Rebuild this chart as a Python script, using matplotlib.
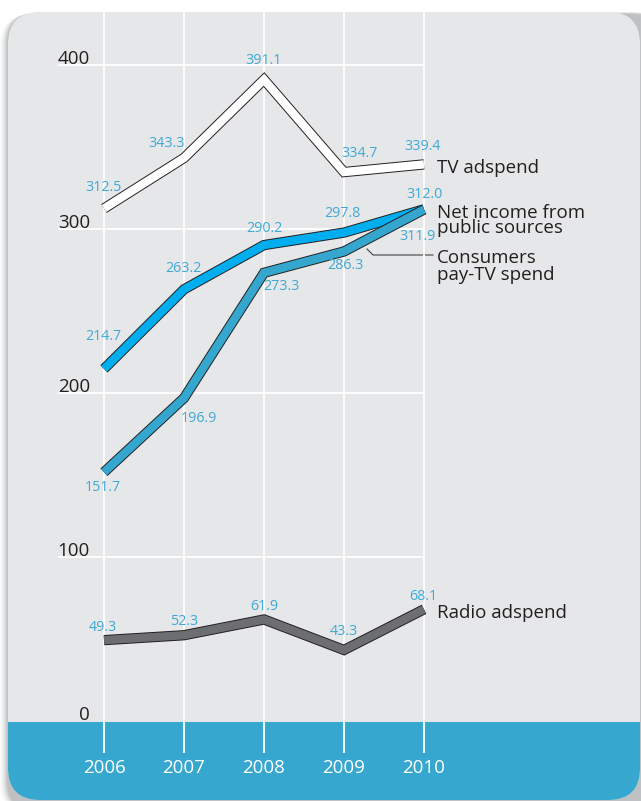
import matplotlib
matplotlib.use('Agg')
import matplotlib.pyplot as plt
import matplotlib.patheffects as pe
from matplotlib.patches import FancyBboxPatch, Rectangle

# ---------------- data ----------------
years = [2006, 2007, 2008, 2009, 2010]
tv_adspend = [312.5, 343.3, 391.1, 334.7, 339.4]
net_income = [214.7, 263.2, 290.2, 297.8, 312.0]
consumers_paytv = [151.7, 196.9, 273.3, 286.3, 311.9]
radio_adspend = [49.3, 52.3, 61.9, 43.3, 68.1]
y_ticks = [0, 100, 200, 300, 400]
series_names = [["TV adspend"],
                ["Net income from", "public sources"],
                ["Consumers", "pay-TV spend"],
                ["Radio adspend"]]

# ---------------- style ----------------
plt.rcParams['font.family'] = ['Open Sans', 'DejaVu Sans']
W, H = 641, 801
X0PX, PPY = 104, 80.0      # pixel of first year, pixels per year
Y0PX, PPU = 721, 1.64      # pixel (from top) of value 0, pixels per unit
DARK = '#231f20'
LBLUE = '#3fa9d6'
PANEL = '#e6e7e8'
BAND = '#36a7cf'

series_colors = ['#ffffff', '#00aeef', '#35a6cd', '#6d6e71']
series_values = [tv_adspend, net_income, consumers_paytv, radio_adspend]
# value-label offsets (pixels) per series / point
value_offsets = [
    [(-1, 21), (-17, 14), (0, 19), (15, 19), (-1, 18)],
    [(-1, 32), (-1, 21), (0, 17), (-2, 19), (0, 15)],
    [(-1, -15), (15, -20), (17, -14), (1, -14), (-7, -27)],
    [(-1, 13), (0, 14), (0, 13), (0, 18), (-1, 13)],
]
# series-name baselines offsets (pixels) from the last point
name_offsets = [
    [(13, -8.6)],
    [(13, -8.7), (13, -23.7)],
    [(13, -53.5), (13, -70.5)],
    [(13, -8.4)],
]
draw_order = [0, 2, 1, 3]

fig = plt.figure(figsize=(W / 100, H / 100), dpi=100)
fig.patch.set_facecolor('white')

# background axes in pixel coordinates
bg = fig.add_axes([0, 0, 1, 1])
bg.set_xlim(0, W)
bg.set_ylim(H, 0)
bg.axis('off')

# soft shadow on the left
for i, a in zip(range(8, 0, -1), [0.03, 0.04, 0.05, 0.06, 0.08, 0.10, 0.12, 0.14]):
    sh = FancyBboxPatch((8 - i, 12 + i * 0.3), 660, 800,
                        boxstyle="round,pad=0,rounding_size=32",
                        facecolor='#808285', edgecolor='none', alpha=a)
    bg.add_patch(sh)

panel = FancyBboxPatch((8, 12), 632, 788,
                       boxstyle="round,pad=0,rounding_size=32",
                       facecolor=PANEL, edgecolor='none')
bg.add_patch(panel)
band = Rectangle((0, 722), W, 90, facecolor=BAND, edgecolor='none')
bg.add_patch(band)
band.set_clip_path(panel)

# leader line for Consumers label
bg.plot([367, 373, 433], [249, 255, 255], color='#414042', lw=0.8)

# data axes
ax = fig.add_axes([0, 0, 1, 1])
ax.set_xlim(years[0] - X0PX / PPY, years[0] + (W - X0PX) / PPY)
ax.set_ylim(-(H - Y0PX) / PPU, Y0PX / PPU)
ax.axis('off')
ax.patch.set_alpha(0)


def px2x(px):
    return years[0] + (px - X0PX) / PPY


def px2y(py):
    return (Y0PX - py) / PPU


# grid
ax.hlines(y_ticks[1:], px2x(58), years[-1], color='white', lw=1.3, zorder=1)
ax.vlines(years, px2y(753), px2y(12), color='white', lw=1.3, zorder=1)

# y tick labels
for t in y_ticks:
    ax.text(px2x(90), t + 1.5 / PPU, str(t), ha='right', va='baseline',
            fontsize=13.5, color=DARK)

# year labels
for yr in years:
    ax.text(yr, px2y(773), str(yr), ha='center', va='baseline',
            fontsize=13.5, color='white')

# lines
for k in draw_order:
    vals = series_values[k]
    ax.plot(years, vals, color=series_colors[k], lw=6.0,
            solid_joinstyle='miter', solid_capstyle='butt', zorder=3 + k * 0.1,
            path_effects=[pe.Stroke(linewidth=7.4, foreground=DARK), pe.Normal()])

# value labels
for k, vals in enumerate(series_values):
    for yr, v, off in zip(years, vals, value_offsets[k]):
        ax.annotate(f"{v:.1f}", (yr, v), xytext=off, textcoords='offset pixels',
                    ha='center', va='center', fontsize=10.3, color=LBLUE, zorder=5)

# series names
for k, vals in enumerate(series_values):
    for line, off in zip(series_names[k], name_offsets[k]):
        ax.annotate(line, (years[-1], vals[-1]), xytext=off, textcoords='offset pixels',
                    ha='left', va='baseline', fontsize=13.5, color=DARK, zorder=5)

fig.savefig('out.png', dpi=100, facecolor='white')
